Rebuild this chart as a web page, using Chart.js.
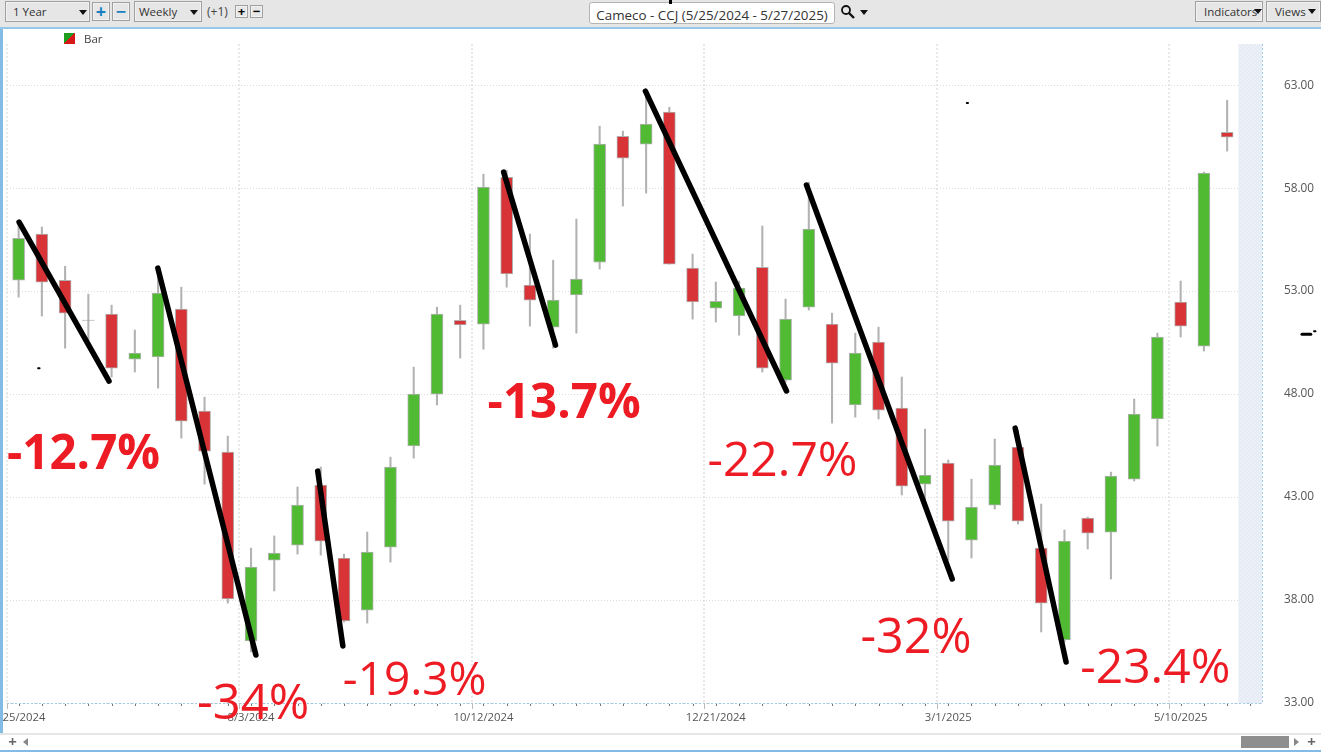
<!DOCTYPE html>
<html>
<head>
<meta charset="utf-8">
<title>Cameco - CCJ</title>
<script src="https://cdn.jsdelivr.net/npm/chart.js@4"></script>
<style>
  html, body { margin: 0; padding: 0; background: #fff; overflow: hidden; font-family: 'Open Sans', sans-serif; }
  #wrap { position: relative; width: 1321px; height: 752px; overflow: hidden; }
  canvas { position: absolute; left: 0; top: 0; }
  .abs { position: absolute; box-sizing: border-box; }
  #toolbar { left: 0; top: 0; width: 1321px; height: 29px; background: #e6e6e6; border-bottom: 2px solid #96c8ea; }
  #frameLeft { left: 0; top: 28px; width: 3px; height: 724px; background: #82bbe4; }
  #bottomBar { left: 0; top: 733px; width: 1321px; height: 19px; background: #fff; border-top: 2px solid #e6e6e6; border-bottom: 2px solid #82bbe4; }
  .btn { background: #e6e6e6; border: 1px solid #a0a0a0; box-shadow: inset 0 0 0 1px #f2f2f2; font-size: 11.5px; color: #333; line-height: 19px; padding-left: 7px; white-space: nowrap; }
  .tri { position: absolute; width: 0; height: 0; border-left: 4px solid transparent; border-right: 4px solid transparent; border-top: 5px solid #111; }
  .pm { text-align: center; padding: 0; font-weight: 700; }
  #title { left: 589px; top: 2px; width: 246px; height: 22px; background: #fff; border: 1px solid #b4b4b4; border-radius: 3px; font-size: 13.4px; color: #333; line-height: 24px; text-align: center; white-space: nowrap; }
</style>
</head>
<body>
<div id="wrap">
  <canvas id="priceChart" width="1321" height="752"></canvas>

  <div class="abs" id="frameLeft"></div>
  <div class="abs" id="toolbar"></div>
  <div class="abs btn" style="left:5px;top:1px;width:85px;height:21px;">1 Year<span class="tri" style="left:73px;top:8px;"></span></div>
  <div class="abs btn pm" style="left:92px;top:2px;width:18px;height:19px;color:#1a7fc0;font-size:18px;line-height:16px;">+</div>
  <div class="abs btn pm" style="left:112px;top:2px;width:18px;height:19px;color:#1a7fc0;font-size:18px;line-height:16px;">&minus;</div>
  <div class="abs btn" style="left:134px;top:1px;width:68px;height:21px;padding-left:4px;">Weekly<span class="tri" style="left:55px;top:8px;"></span></div>
  <div class="abs" style="left:207px;top:3px;font-size:12px;color:#444;">(+1)</div>
  <div class="abs btn pm" style="left:235px;top:5px;width:13px;height:13px;color:#000;font-size:13px;line-height:10px;">+</div>
  <div class="abs btn pm" style="left:250px;top:5px;width:13px;height:13px;color:#000;font-size:13px;line-height:10px;">&minus;</div>
  <div class="abs" id="title">Cameco - CCJ (5/25/2024 - 5/27/2025)</div>
  <div class="abs" style="left:669px;top:0;width:3px;height:4px;background:#000;"></div>
  <svg class="abs" style="left:840px;top:4px;" width="16" height="16" viewBox="0 0 16 16">
    <circle cx="6" cy="6" r="4" fill="none" stroke="#111" stroke-width="1.8"/>
    <line x1="9" y1="9" x2="14" y2="14" stroke="#111" stroke-width="2.4"/>
  </svg>
  <span class="tri" style="left:860px;top:10px;"></span>
  <div class="abs btn" style="left:1195px;top:1px;width:68px;height:21px;padding-left:8px;">Indicators<span class="tri" style="left:58px;top:7px;"></span></div>
  <div class="abs btn" style="left:1266px;top:1px;width:55px;height:21px;padding-left:8px;">Views<span class="tri" style="left:41px;top:7px;"></span></div>

  <div class="abs" style="left:64px;top:33px;width:11px;height:11px;background:linear-gradient(to bottom right,#1e9e1e 50%,#d81818 50%);"></div>
  <div class="abs" style="left:84px;top:31px;font-size:11.5px;color:#444;">Bar</div>

  <div class="abs" id="bottomBar"></div>
  <div class="abs" style="left:4px;top:733px;width:17px;height:17px;text-align:center;font-size:15px;font-weight:700;color:#666;line-height:17px;">+</div>
  <span class="tri" style="left:23px;top:738px;border:0;border-top:4px solid transparent;border-bottom:4px solid transparent;border-right:5px solid #888;"></span>
  <div class="abs" style="left:1241px;top:736px;width:48px;height:12px;background:#8e8e8e;"></div>
  <span class="tri" style="left:1294px;top:738px;border:0;border-top:4px solid transparent;border-bottom:4px solid transparent;border-left:5px solid #888;"></span>
  <div class="abs" style="left:1303px;top:733px;width:17px;height:17px;text-align:center;font-size:15px;font-weight:700;color:#666;line-height:17px;">+</div>
</div>

<script>
// weekly bars, last slot is the empty week under the shaded band
const weeks = ['5/25/2024','6/1/2024','6/8/2024','6/15/2024','6/22/2024','6/29/2024','7/6/2024','7/13/2024','7/20/2024','7/27/2024',
  '8/3/2024','8/10/2024','8/17/2024','8/24/2024','8/31/2024','9/7/2024','9/14/2024','9/21/2024','9/28/2024','10/5/2024',
  '10/12/2024','10/19/2024','10/26/2024','11/2/2024','11/9/2024','11/16/2024','11/23/2024','11/30/2024','12/7/2024','12/14/2024',
  '12/21/2024','12/28/2024','1/4/2025','1/11/2025','1/18/2025','1/25/2025','2/1/2025','2/8/2025','2/15/2025','2/22/2025',
  '3/1/2025','3/8/2025','3/15/2025','3/22/2025','3/29/2025','4/5/2025','4/12/2025','4/19/2025','4/26/2025','5/3/2025',
  '5/10/2025','5/17/2025','5/24/2025','5/31/2025'];

const opens = [53.53,55.77,53.53,51.60,51.88,49.70,49.80,52.13,47.17,45.18,
  36.01,39.94,40.67,43.58,40.04,37.51,40.57,45.48,48.00,51.58,
  51.40,58.53,53.29,51.25,52.81,54.41,60.52,60.14,61.69,54.12,
  52.17,51.79,54.16,48.68,52.22,51.40,47.47,50.52,47.32,43.63,
  44.65,40.91,42.61,45.43,40.52,36.06,41.98,41.30,43.87,46.79,
  52.47,50.33,60.71];
const closes = [55.56,53.44,51.93,51.58,49.26,49.99,52.90,46.69,45.23,38.05,
  39.60,40.28,42.61,40.86,36.98,40.33,44.46,48.00,51.88,51.36,
  58.05,53.83,52.56,52.56,53.58,60.14,59.46,61.11,54.31,52.47,
  52.51,53.15,49.26,51.64,56.01,49.50,49.99,47.22,43.53,44.07,
  41.83,42.51,44.55,41.83,37.85,40.86,41.25,44.02,47.03,50.77,
  51.30,58.73,60.48];
const highs = [56.25,56.11,54.21,52.85,52.32,51.11,53.87,53.19,47.85,45.96,
  40.52,41.11,43.49,44.46,40.23,41.30,44.94,49.31,52.22,52.32,
  58.68,58.87,55.77,54.50,56.50,61.01,60.77,62.51,61.93,54.80,
  53.44,53.49,56.16,52.61,58.29,51.93,50.96,51.25,48.83,46.30,
  44.80,43.87,45.82,46.25,42.66,41.40,42.03,44.21,47.76,50.96,
  53.49,58.78,62.27];
const lows = [52.71,51.79,50.23,50.62,48.83,49.07,48.29,45.86,43.63,37.85,
  35.48,38.44,40.23,40.18,36.93,36.88,39.84,44.89,47.47,49.75,
  50.18,53.19,51.30,50.23,50.96,54.07,57.13,57.76,54.31,51.64,
  51.50,50.86,49.07,48.58,52.08,46.59,46.88,46.79,43.10,42.85,
  39.94,40.04,42.42,41.69,36.45,35.96,40.48,39.02,43.78,45.48,
  50.77,50.09,59.80];

const priceTicks = [33, 38, 43, 48, 53, 58, 63];

// hand drawn trend lines on the screenshot: [bar index, price] pairs
const trendLines = [
  [[0.02, 56.35], [3.89, 48.63]],
  [[5.99, 54.12], [10.21, 35.33]],
  [[12.87, 44.26], [13.95, 35.77]],
  [[20.87, 58.78], [23.10, 50.38]],
  [[26.97, 62.71], [33.04, 48.15]],
  [[33.90, 58.15], [40.17, 39.02]],
  [[42.88, 46.35], [45.07, 34.99]]
];
// stray specks left on the screenshot
const specks = [
  [[0.84, 49.26], [0.90, 49.26]],
  [[40.80, 62.13], [40.85, 62.13]],
  [[55.22, 50.91], [55.60, 50.91]],
  [[55.74, 51.05], [55.80, 51.05]]
];

const dropTexts = ['-12.7%', '-34%', '-19.3%', '-13.7%', '-22.7%', '-32%', '-23.4%'];
const dropBars = [-0.50, 7.67, 13.95, 20.18, 29.64, 36.22, 45.68];
const dropPrices = [44.36, 32.22, 33.39, 46.83, 44.02, 35.43, 33.97];
const dropWeights = ['700', '500', '500', '700', '500', '500', '500'];
const dropSizes = [47.5, 49, 46, 47.5, 48, 48.5, 48];

const GREEN = '#4fba32';
const RED = '#d83437';

function hatchPattern() {
  const c = document.createElement('canvas');
  c.width = 4; c.height = 4;
  const p = c.getContext('2d');
  p.fillStyle = '#ebf0f8';
  p.fillRect(0, 0, 4, 4);
  p.strokeStyle = '#e2e9f3';
  p.beginPath(); p.moveTo(0, 4); p.lineTo(4, 0); p.stroke();
  return p.createPattern(c, 'repeat');
}

const overlay = {
  id: 'overlay',
  afterDraw(chart) {
    const ctx = chart.ctx, x = chart.scales.x, y = chart.scales.y, line = chart.scales.xLine;
    const a = chart.chartArea;
    ctx.save();
    // dotted frame on the right and bottom of the plot
    ctx.strokeStyle = '#9fcbe8';
    ctx.setLineDash([2, 2]);
    ctx.beginPath();
    ctx.moveTo(a.left, a.bottom + 0.5); ctx.lineTo(a.right, a.bottom + 0.5);
    ctx.moveTo(a.right + 0.5, a.top); ctx.lineTo(a.right + 0.5, a.bottom);
    ctx.stroke();
    ctx.setLineDash([]);
    // small marks under each bar
    weeks.forEach((w, i) => {
      const px = Math.round(x.getPixelForValue(i)) + 0.5;
      ctx.strokeStyle = '#777';
      ctx.beginPath(); ctx.moveTo(px, a.bottom + 1); ctx.lineTo(px, a.bottom + 3); ctx.stroke();
      if (i % 10 === 0) {
        const gx = Math.round(line.getPixelForValue(i - 0.5)) + 0.5;
        ctx.strokeStyle = '#bbb';
        ctx.beginPath(); ctx.moveTo(gx, a.bottom); ctx.lineTo(gx, a.bottom + 6); ctx.stroke();
      }
    });
    // drop labels typed over the chart
    ctx.fillStyle = '#ed1c24';
    ctx.textBaseline = 'alphabetic';
    ctx.textAlign = 'left';
    dropTexts.forEach((t, i) => {
      ctx.font = dropWeights[i] + ' ' + dropSizes[i] + "px 'Open Sans'";
      ctx.fillText(t, line.getPixelForValue(dropBars[i]), y.getPixelForValue(dropPrices[i]));
    });
    ctx.restore();
  }
};

const lineDataset = (pts, width) => ({
  type: 'line',
  xAxisID: 'xLine',
  data: pts.map(p => ({ x: p[0], y: p[1] })),
  borderColor: '#000',
  borderWidth: width,
  borderCapStyle: 'round',
  pointRadius: 0,
  fill: false,
  clip: false,
  order: 0
});

const bodyColor = (o, c) => Math.abs(o - c) < 0.05 ? '#999' : (c >= o ? GREEN : RED);

const priceChart = new Chart(document.getElementById('priceChart').getContext('2d'), {
  type: 'bar',
  data: {
    labels: weeks,
    datasets: [
      {
        // shaded future band
        data: weeks.map((w, i) => i === weeks.length - 1 ? [33, 65] : null),
        backgroundColor: hatchPattern(),
        barPercentage: 1,
        categoryPercentage: 1,
        grouped: false,
        order: 4
      },
      {
        // wicks
        data: highs.map((h, i) => [lows[i], h]),
        backgroundColor: '#b2b2b2',
        barThickness: 1.4,
        grouped: false,
        order: 3
      },
      {
        // bodies
        data: opens.map((o, i) => [o, closes[i]]),
        backgroundColor: opens.map((o, i) => bodyColor(o, closes[i])),
        borderColor: '#b0b0b0',
        borderWidth: 1,
        borderSkipped: false,
        barThickness: 12,
        grouped: false,
        order: 2
      },
      ...trendLines.map(l => lineDataset(l, 5.5)),
      ...specks.map((l, i) => lineDataset(l, i === 2 ? 3 : 2))
    ]
  },
  options: {
    responsive: false,
    animation: false,
    layout: { padding: { left: 7, top: 44, right: 0, bottom: 0 } },
    plugins: { legend: { display: false }, tooltip: { enabled: false } },
    scales: {
      x: {
        type: 'category',
        offset: true,
        grid: {
          offset: true,
          drawTicks: false,
          lineWidth: 2,
          color: ctx => ctx.index % 10 === 0 ? '#e8e8e8' : 'transparent'
        },
        border: { display: false, dash: [2, 2] },
        ticks: {
          autoSkip: false,
          maxRotation: 0,
          padding: 8,
          color: '#555',
          font: { family: "'Open Sans'", size: 11.3 },
          callback: function (v, i) { return i % 10 === 0 ? weeks[i] : ''; }
        },
        afterFit: s => { s.height = 49; s.paddingLeft = 0; s.paddingRight = 0; }
      },
      xLine: { type: 'linear', display: false, offset: false, min: -0.5, max: 53.5 },
      y: {
        type: 'linear',
        position: 'right',
        min: 33,
        max: 65,
        afterBuildTicks: s => { s.ticks = priceTicks.map(v => ({ value: v })); },
        grid: { drawTicks: false, color: '#dcdcdc', lineWidth: 1 },
        border: { display: false, dash: [1, 2] },
        ticks: {
          padding: 22,
          color: '#555',
          font: { family: "'Open Sans'", size: 11.8 },
          callback: v => v.toFixed(2)
        },
        afterFit: s => { s.width = 59; s.paddingTop = 0; s.paddingBottom = 0; }
      }
    }
  },
  plugins: [overlay]
});
</script>
</body>
</html>
